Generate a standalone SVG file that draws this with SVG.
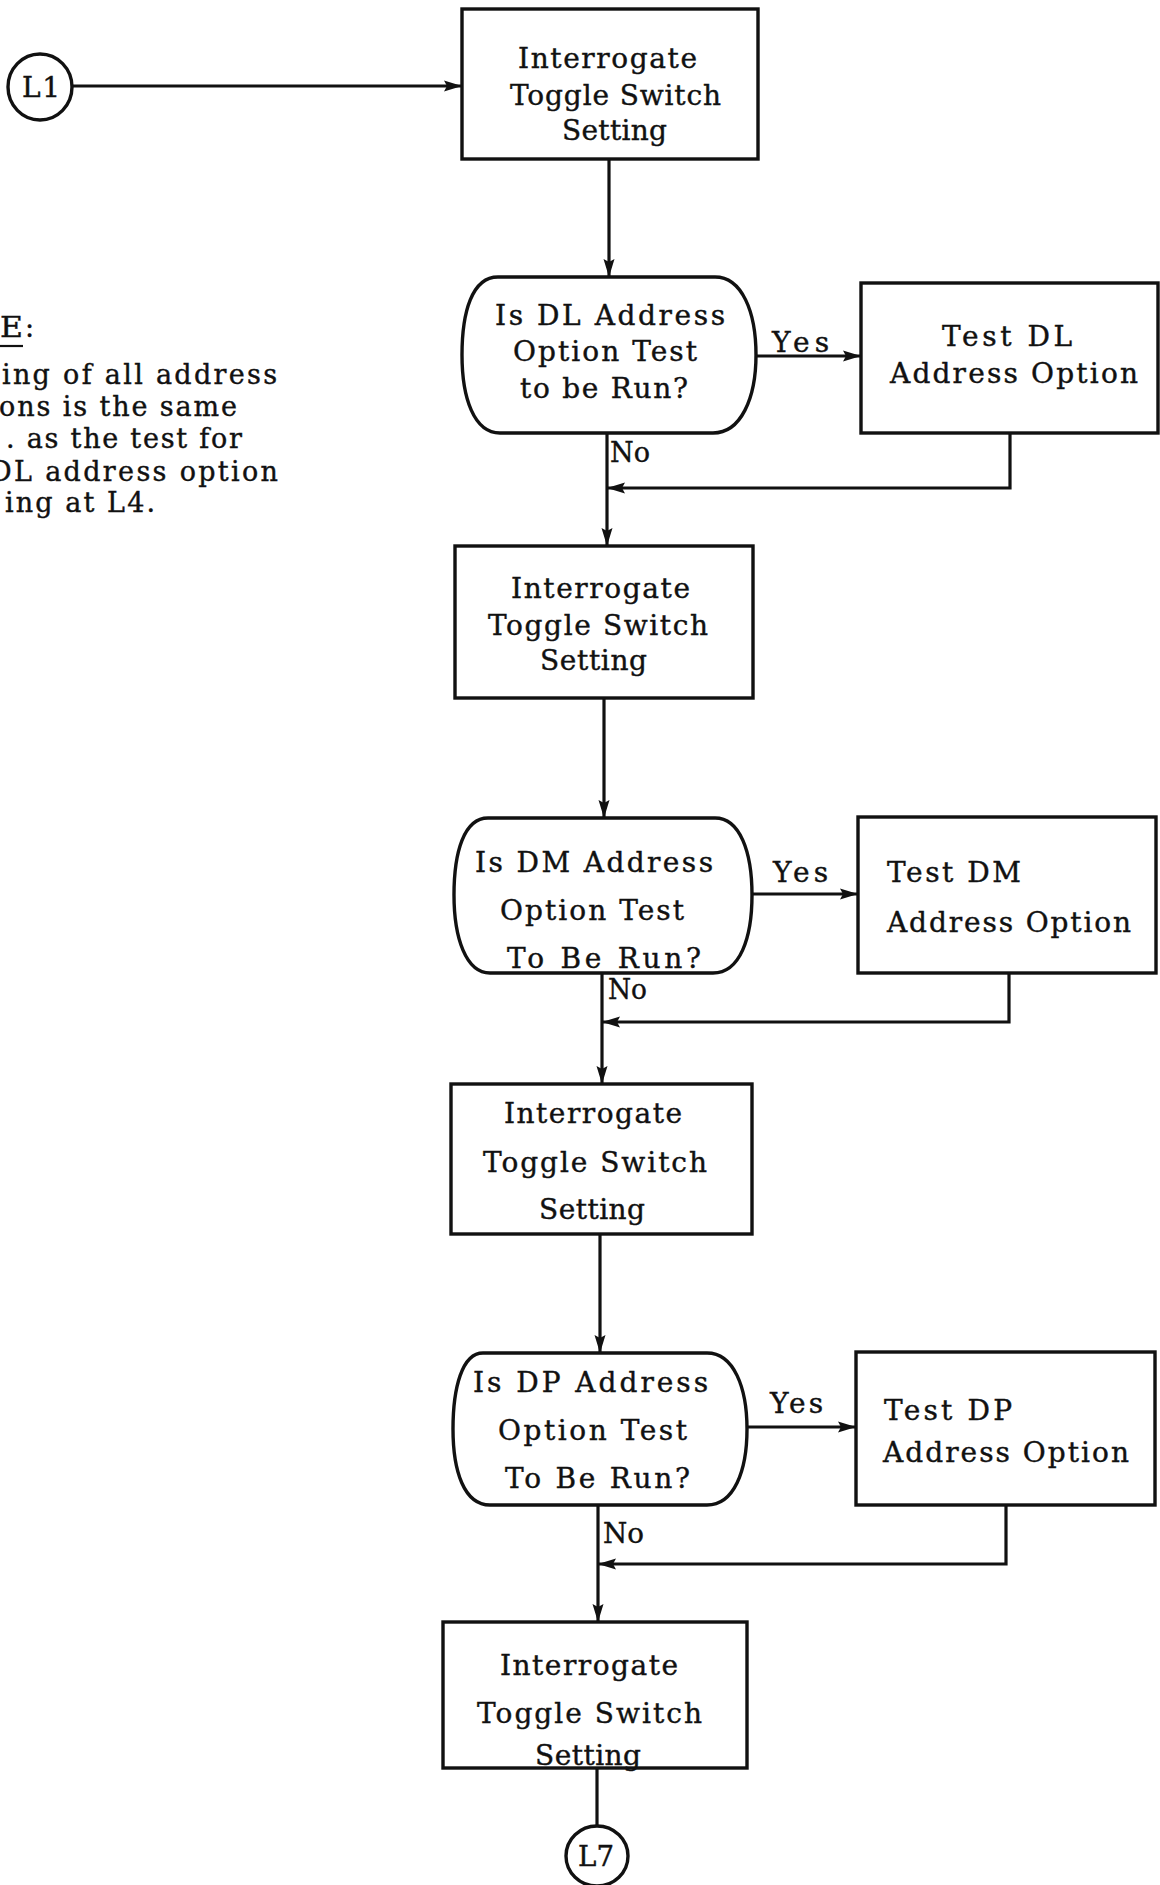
<svg xmlns="http://www.w3.org/2000/svg" width="1160" height="1885" viewBox="0 0 1160 1885">
<defs>
<marker id="ah" markerUnits="userSpaceOnUse" markerWidth="18" markerHeight="12" refX="18" refY="6" orient="auto">
<path d="M0,0.5 L18,6 L0,11.5 L3,6 Z" fill="#111"/>
</marker>
<style>
.shape{fill:#fff;stroke:#111;stroke-width:3.4}
.ln{fill:none;stroke:#111;stroke-width:3.2}
.arr{fill:none;stroke:#111;stroke-width:3.2;marker-end:url(#ah)}
text{font-family:"DejaVu Serif","Liberation Serif",serif;font-size:28px;fill:#111;stroke:#111;stroke-width:0.4}
.note{font-size:27px}
</style>
</defs>
<rect width="1160" height="1885" fill="#fff"/>

<g id="note">
<text class="note" x="0" y="337" textLength="23" lengthAdjust="spacingAndGlyphs">E</text>
<text class="note" x="25" y="337">:</text>
<line x1="0" y1="346" x2="23" y2="346" stroke="#111" stroke-width="2.2"/>
<text class="note" x="2" y="384" textLength="275" lengthAdjust="spacing">ing of all address</text>
<text class="note" x="-1" y="416" textLength="238" lengthAdjust="spacing">ons is the same</text>
<text class="note" x="6" y="448" textLength="236" lengthAdjust="spacing">. as the test for</text>
<text class="note" x="-10" y="481" textLength="288" lengthAdjust="spacing">DL address option</text>
<text class="note" x="5" y="512" textLength="150" lengthAdjust="spacing">ing at L4.</text>
</g>

<g id="connectors">
<line class="arr" x1="72" y1="86" x2="462" y2="86"/>
<line class="arr" x1="609" y1="159" x2="609" y2="277"/>
<line class="arr" x1="756" y1="356" x2="861" y2="356"/>
<line class="arr" x1="607" y1="433" x2="607" y2="546"/>
<polyline class="arr" points="1010,433 1010,488 607,488"/>
<line class="arr" x1="604" y1="698" x2="604" y2="818"/>
<line class="arr" x1="752" y1="894" x2="858" y2="894"/>
<line class="arr" x1="602" y1="973" x2="602" y2="1084"/>
<polyline class="arr" points="1009,973 1009,1022 602,1022"/>
<line class="arr" x1="600" y1="1234" x2="600" y2="1353"/>
<line class="arr" x1="747" y1="1427" x2="856" y2="1427"/>
<line class="arr" x1="598" y1="1505" x2="598" y2="1622"/>
<polyline class="arr" points="1006,1505 1006,1564 598,1564"/>
<line class="ln" x1="597" y1="1768" x2="597" y2="1826"/>
<text x="772" y="352" textLength="57" lengthAdjust="spacing">Yes</text>
<text x="610" y="462" textLength="40" lengthAdjust="spacingAndGlyphs">No</text>
<text x="773" y="882" textLength="55" lengthAdjust="spacing">Yes</text>
<text x="608" y="999" textLength="39" lengthAdjust="spacingAndGlyphs">No</text>
<text x="770" y="1413" textLength="53" lengthAdjust="spacing">Yes</text>
<text x="603" y="1543" textLength="41" lengthAdjust="spacingAndGlyphs">No</text>
</g>

<g id="L1">
<ellipse class="shape" cx="40" cy="87" rx="32" ry="33"/>
<text x="22" y="97" textLength="38" lengthAdjust="spacing">L1</text>
</g>

<g id="box1">
<rect class="shape" x="462" y="9" width="296" height="150"/>
<text x="518" y="68" textLength="179" lengthAdjust="spacing">Interrogate</text>
<text x="510" y="105" textLength="211" lengthAdjust="spacing">Toggle Switch</text>
<text x="562" y="140" textLength="105" lengthAdjust="spacing">Setting</text>
</g>

<g id="dec1">
<path class="shape" d="M498,277 H715 C742,277 756,312 756,355 C756,398 741,433 713,433 H500 C474,433 462,398 462,355 C462,312 472,277 498,277 Z"/>
<text x="495" y="325" textLength="230" lengthAdjust="spacing">Is DL Address</text>
<text x="513" y="361" textLength="184" lengthAdjust="spacing">Option Test</text>
<text x="520" y="398" textLength="168" lengthAdjust="spacing">to be Run?</text>
</g>

<g id="box2">
<rect class="shape" x="861" y="283" width="297" height="150"/>
<text x="942" y="346" textLength="130" lengthAdjust="spacing">Test DL</text>
<text x="890" y="383" textLength="248" lengthAdjust="spacing">Address Option</text>
</g>

<g id="box3">
<rect class="shape" x="455" y="546" width="298" height="152"/>
<text x="511" y="598" textLength="179" lengthAdjust="spacing">Interrogate</text>
<text x="488" y="635" textLength="220" lengthAdjust="spacing">Toggle Switch</text>
<text x="540" y="670" textLength="107" lengthAdjust="spacing">Setting</text>
</g>

<g id="dec2">
<path class="shape" d="M488,818 H715 C740,818 752,852 752,895 C752,938 740,973 713,973 H490 C466,973 454,938 454,895 C454,852 464,818 488,818 Z"/>
<text x="475" y="872" textLength="238" lengthAdjust="spacing">Is DM Address</text>
<text x="500" y="920" textLength="184" lengthAdjust="spacing">Option Test</text>
<text x="507" y="968" textLength="194" lengthAdjust="spacing">To Be Run?</text>
</g>

<g id="box4">
<rect class="shape" x="858" y="817" width="298" height="156"/>
<text x="887" y="882" textLength="134" lengthAdjust="spacing">Test DM</text>
<text x="887" y="932" textLength="244" lengthAdjust="spacing">Address Option</text>
</g>

<g id="box5">
<rect class="shape" x="451" y="1084" width="301" height="150"/>
<text x="504" y="1123" textLength="178" lengthAdjust="spacing">Interrogate</text>
<text x="483" y="1172" textLength="224" lengthAdjust="spacing">Toggle Switch</text>
<text x="539" y="1219" textLength="106" lengthAdjust="spacing">Setting</text>
</g>

<g id="dec3">
<path class="shape" d="M483,1353 H707 C734,1353 747,1388 747,1429 C747,1471 734,1505 707,1505 H490 C464,1505 453,1471 453,1429 C453,1388 462,1353 483,1353 Z"/>
<text x="473" y="1392" textLength="235" lengthAdjust="spacing">Is DP Address</text>
<text x="498" y="1440" textLength="189" lengthAdjust="spacing">Option Test</text>
<text x="505" y="1488" textLength="185" lengthAdjust="spacing">To Be Run?</text>
</g>

<g id="box6">
<rect class="shape" x="856" y="1352" width="299" height="153"/>
<text x="884" y="1420" textLength="128" lengthAdjust="spacing">Test DP</text>
<text x="883" y="1462" textLength="246" lengthAdjust="spacing">Address Option</text>
</g>

<g id="box7">
<rect class="shape" x="443" y="1622" width="304" height="146"/>
<text x="500" y="1675" textLength="178" lengthAdjust="spacing">Interrogate</text>
<text x="477" y="1723" textLength="225" lengthAdjust="spacing">Toggle Switch</text>
<text x="535" y="1765" textLength="106" lengthAdjust="spacing">Setting</text>
</g>

<g id="L7">
<ellipse class="shape" cx="597" cy="1856" rx="31" ry="30"/>
<text x="578" y="1866" textLength="36" lengthAdjust="spacingAndGlyphs">L7</text>
</g>
</svg>
